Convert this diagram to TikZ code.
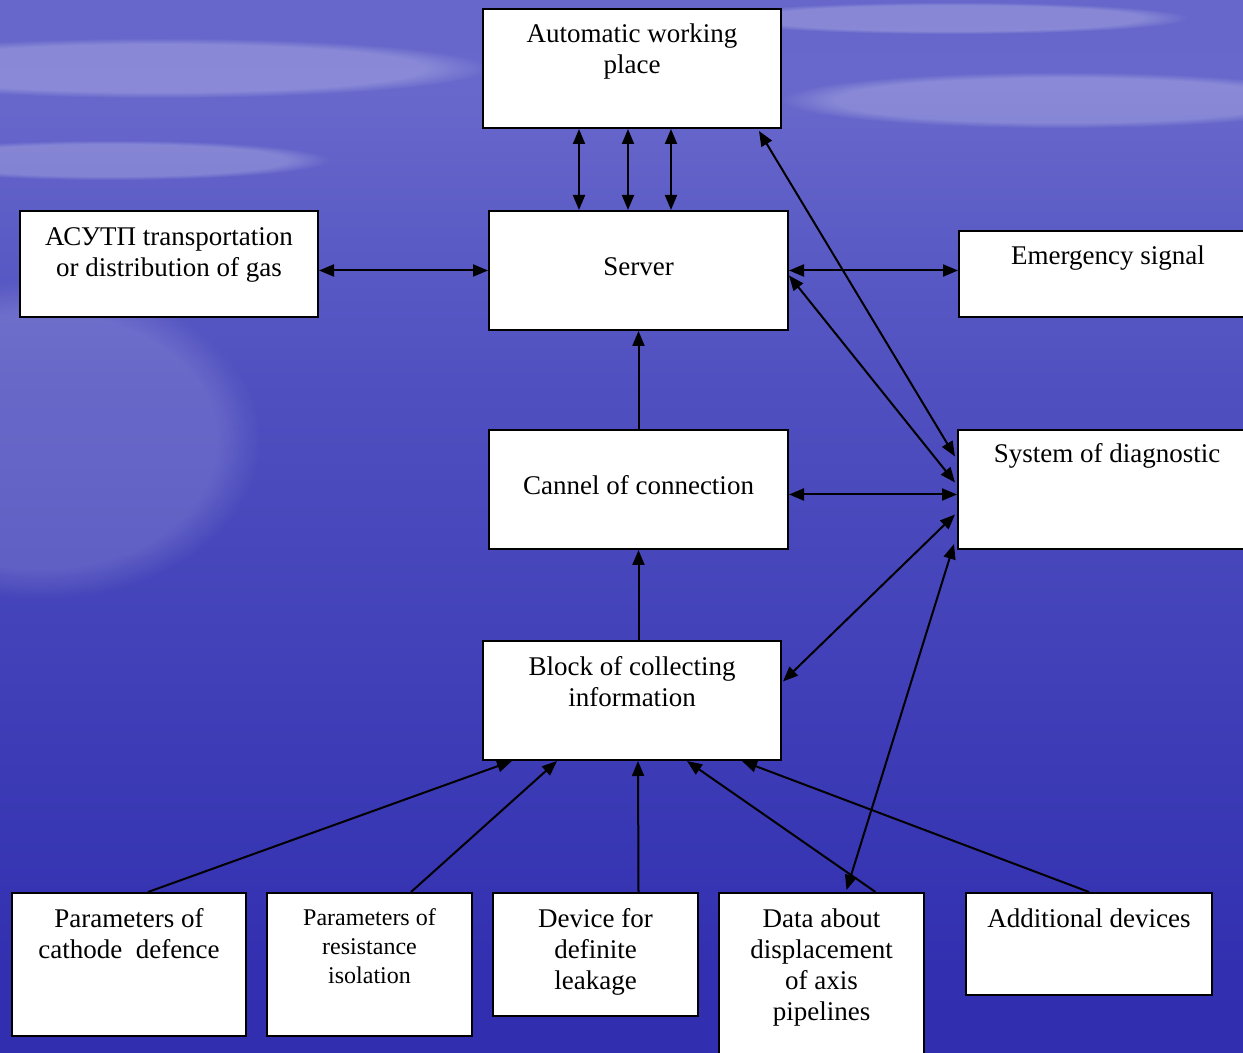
\documentclass[tikz,border=0pt]{standalone}
\usepackage{fontspec}
\setmainfont{Liberation Serif}
\usetikzlibrary{arrows.meta,calc,fadings}
\tikzset{every picture/.style={line width=1pt}}
\definecolor{skytop}{RGB}{88,88,194}
\definecolor{skyhaze}{RGB}{104,104,204}
\definecolor{skymid}{RGB}{80,80,192}
\definecolor{sealow}{RGB}{50,48,176}
\definecolor{seabot}{RGB}{40,38,168}
\pgfdeclareverticalshading{seasky}{100bp}{color(0bp)=(seabot); color(29bp)=(sealow);
  color(57bp)=(skymid); color(71bp)=(skyhaze); color(100bp)=(skytop)}
\tikzset{
  blk/.style={draw=black, fill=white, inner sep=0pt, anchor=north west, align=center,
    font=\fontsize{13.5}{15.5}\selectfont, text height=17pt},
  cloud/.style={white, opacity=0.22, path fading=circle with fuzzy edge 20 percent},
  tip/.style={-{Triangle[length=7.5pt,width=6pt]}},
  dtip/.style={{Triangle[length=7.5pt,width=6pt]}-{Triangle[length=7.5pt,width=6pt]}}
}

\begin{document}
\begin{tikzpicture}[x=0.5pt, y=-0.5pt]
    % background: sky and sea
    \useasboundingbox (0,0) rectangle (1243,1053);
    \shade[shading=seasky] (0,0) rectangle (1243,1053);
    \fill[cloud] (160,68) ellipse (330 and 30);
    \fill[cloud] (1060,100) ellipse (280 and 28);
    \fill[cloud] (110,160) ellipse (220 and 20);
    \fill[cloud] (950,18) ellipse (240 and 16);
    \fill[cloud, opacity=0.14] (40,440) ellipse (220 and 160);

    % blocks
    \node[blk, minimum width=149pt, text height=32.5pt, text depth=27pt] (awp) at (482,8) {Automatic working\\place};
    \node[blk, minimum width=149.5pt, text height=32.5pt, text depth=27pt] (srv) at (488,210) {Server};
    \node[blk, minimum width=149pt, text height=33pt, text depth=20pt] (asu) at (19,210) {АСУТП transportation\\or distribution of gas};
    \node[blk, minimum width=149pt, text depth=26pt] (emg) at (958,230) {Emergency signal};
    \node[blk, minimum width=149pt, text height=16.5pt, text depth=43pt] (dia) at (957,429) {System of diagnostic};
    \node[blk, minimum width=149.5pt, text height=32.5pt, text depth=27pt] (can) at (488,429) {Cannel of connection};
    \node[blk, minimum width=149pt, text height=32.5pt, text depth=27pt] (blk) at (482,640) {Block of collecting\\information};

    % sources
    \node[blk, minimum width=117pt, text height=32.5pt, text depth=39pt] (cat) at (11,892) {Parameters of\\cathode\ \ defence};
    \node[blk, minimum width=102.5pt, text height=45pt, text depth=26.5pt,
          font=\fontsize{12}{14.5}\selectfont] (res) at (266,892) {Parameters of\\resistance\\isolation};
    \node[blk, minimum width=102.5pt, text height=48pt, text depth=13.5pt] (dev) at (492,892) {Device for\\definite\\leakage};
    \node[blk, minimum width=102.5pt, text height=63.5pt, text depth=21.5pt] (dat) at (718,892) {Data about\\displacement\\of axis\\pipelines};
    \node[blk, minimum width=123pt, text depth=34pt] (add) at (965,892) {Additional devices};

    % links around the server
    \foreach \x in {579,628,671}
        \draw[dtip] (awp.south -| \x,0) -- (srv.north -| \x,0);
    \draw[dtip] (srv.west -| asu.east) -- (srv.west);
    \draw[dtip] (srv.east) -- (srv.east -| emg.west);
    \draw[tip] (can.north) -- (srv.south);
    \draw[tip] (can.south |- blk.north) -- (can.south);

    % links to the diagnostic system
    \draw[dtip] ($(awp.south east)+(-23,2)$) -- ($(dia.west)+(-2,-33)$);
    \draw[dtip] ($(srv.east)+(0,5)$) -- ($(dia.west)+(-2,-7)$);
    \draw[dtip] ($(can.east)+(0,5)$) -- ($(can.east -| dia.west)+(0,5)$);
    \draw[dtip] ($(blk.east)+(1,-19)$) -- ($(dia.west)+(-2,25)$);
    \draw[dtip] ($(dat.north)+(25,-2)$) -- ($(dia.south west)+(-3,-6)$);

    % sources to the collecting block
    \draw[tip] ($(cat.north)+(19,0)$) -- ($(blk.south west)+(30,0)$);
    \draw[tip] ($(res.north)+(41.5,0)$) -- ($(blk.south west)+(75,0)$);
    \draw[tip] ($(dev.north)+(43,0)$) -- ($(blk.south)+(6,0)$);
    \draw[tip] ($(dat.north)+(54,0)$) -- ($(blk.south)+(55,0)$);
    \draw[tip] (add.north) -- ($(blk.south east)+(-40,0)$);
\end{tikzpicture}
\end{document}
